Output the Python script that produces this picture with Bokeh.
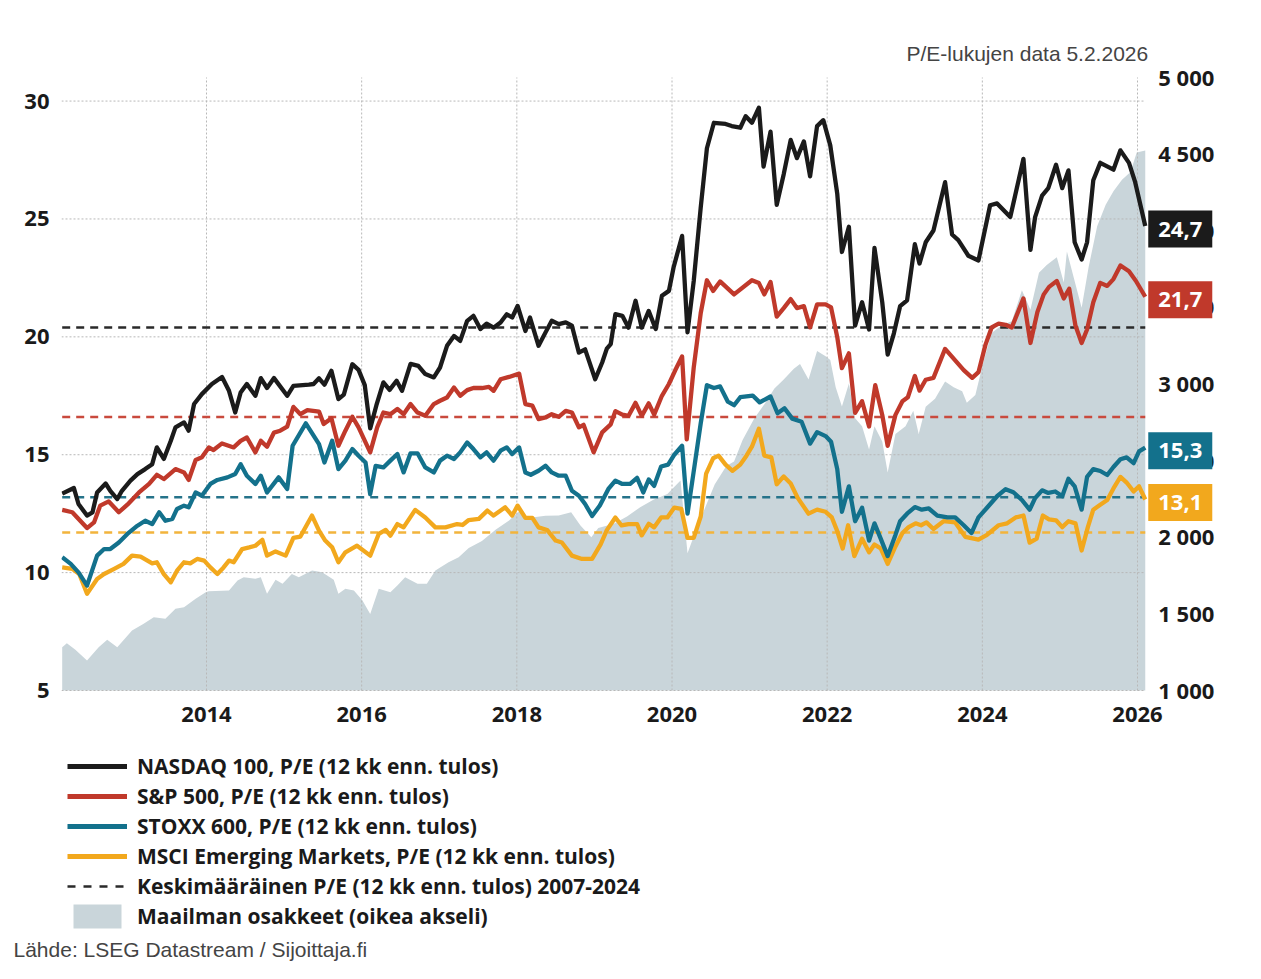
from bokeh.plotting import figure
from bokeh.models import Range1d, FixedTicker, Label, Legend, LegendItem, Title
from bokeh.layouts import column
from bokeh.core.properties import value
from bokeh.embed import file_html
from bokeh.resources import INLINE

# ---------------- data ----------------
nq_x = [2012.14, 2012.29, 2012.35, 2012.46, 2012.53, 2012.59, 2012.70, 2012.76, 2012.85, 2012.91,
        2013.02, 2013.11, 2013.21, 2013.30, 2013.36, 2013.45, 2013.54, 2013.60, 2013.71, 2013.77,
        2013.84, 2013.94, 2014.07, 2014.20, 2014.29, 2014.37, 2014.44, 2014.52, 2014.63, 2014.70,
        2014.78, 2014.87, 2015.04, 2015.12, 2015.32, 2015.38, 2015.45, 2015.52, 2015.61, 2015.70,
        2015.77, 2015.88, 2015.96, 2016.04, 2016.11, 2016.19, 2016.28, 2016.36, 2016.45, 2016.52,
        2016.63, 2016.73, 2016.82, 2016.93, 2017.01, 2017.10, 2017.19, 2017.27, 2017.36, 2017.44,
        2017.53, 2017.61, 2017.70, 2017.79, 2017.87, 2017.94, 2018.01, 2018.11, 2018.17, 2018.28,
        2018.37, 2018.45, 2018.54, 2018.63, 2018.71, 2018.80, 2018.88, 2019.01, 2019.10, 2019.16,
        2019.21, 2019.27, 2019.36, 2019.44, 2019.53, 2019.61, 2019.70, 2019.79, 2019.87, 2019.96,
        2020.02, 2020.13, 2020.20, 2020.28, 2020.37, 2020.45, 2020.54, 2020.69, 2020.77, 2020.88,
        2020.95, 2021.03, 2021.12, 2021.18, 2021.27, 2021.35, 2021.44, 2021.53, 2021.61, 2021.70,
        2021.78, 2021.87, 2021.95, 2022.04, 2022.13, 2022.19, 2022.28, 2022.36, 2022.45, 2022.54,
        2022.61, 2022.71, 2022.78, 2022.86, 2022.94, 2023.03, 2023.13, 2023.19, 2023.27, 2023.37,
        2023.52, 2023.61, 2023.69, 2023.82, 2023.95, 2024.10, 2024.19, 2024.36, 2024.53, 2024.62,
        2024.68, 2024.77, 2024.85, 2024.95, 2025.03, 2025.11, 2025.19, 2025.28, 2025.35, 2025.43,
        2025.52, 2025.69, 2025.78, 2025.89, 2025.97, 2026.10]
nq_y = [13.35, 13.59, 12.91, 12.42, 12.55, 13.40, 13.78, 13.47, 13.12, 13.47,
        13.90, 14.18, 14.39, 14.60, 15.31, 14.82, 15.59, 16.16, 16.37, 16.02,
        17.15, 17.57, 18.00, 18.30, 17.71, 16.79, 17.64, 18.00, 17.50, 18.25,
        17.83, 18.25, 17.50, 17.92, 17.97, 18.00, 18.24, 17.97, 18.56, 17.36,
        17.55, 18.84, 18.60, 17.95, 16.12, 17.10, 18.07, 17.75, 18.14, 17.71,
        18.85, 18.77, 18.42, 18.28, 18.70, 19.62, 20.04, 19.83, 20.68, 20.89,
        20.33, 20.56, 20.39, 20.61, 20.96, 20.82, 21.31, 20.25, 20.82, 19.62,
        20.19, 20.68, 20.54, 20.61, 20.47, 19.33, 19.47, 18.20, 18.91, 19.50,
        19.69, 20.96, 20.89, 20.39, 21.53, 20.39, 21.10, 20.33, 21.74, 21.95,
        22.94, 24.28, 20.19, 22.37, 25.48, 28.00, 29.08, 29.03, 28.94, 28.87,
        29.36, 29.08, 29.72, 27.22, 28.70, 25.60, 26.90, 28.35, 27.58, 28.29,
        26.81, 28.94, 29.19, 28.12, 26.07, 23.60, 24.67, 20.48, 21.47, 20.31,
        23.77, 21.47, 19.25, 20.15, 21.30, 21.55, 23.93, 23.11, 24.01, 24.51,
        26.56, 24.34, 24.10, 23.44, 23.24, 25.58, 25.66, 25.08, 27.55, 23.69,
        25.08, 25.99, 26.31, 27.30, 26.31, 27.06, 24.01, 23.28, 24.01, 26.64,
        27.38, 27.09, 27.91, 27.38, 26.56, 24.70]

sp_x = [2012.14, 2012.27, 2012.46, 2012.55, 2012.63, 2012.74, 2012.87, 2012.98, 2013.13, 2013.26,
        2013.36, 2013.45, 2013.60, 2013.71, 2013.77, 2013.86, 2013.94, 2014.03, 2014.09, 2014.20,
        2014.35, 2014.44, 2014.52, 2014.63, 2014.70, 2014.78, 2014.87, 2014.95, 2015.04, 2015.12,
        2015.21, 2015.30, 2015.45, 2015.51, 2015.61, 2015.70, 2015.79, 2015.88, 2015.96, 2016.11,
        2016.20, 2016.28, 2016.37, 2016.46, 2016.54, 2016.63, 2016.72, 2016.82, 2016.93, 2017.01,
        2017.10, 2017.19, 2017.27, 2017.36, 2017.44, 2017.55, 2017.64, 2017.70, 2017.79, 2017.90,
        2018.03, 2018.11, 2018.20, 2018.28, 2018.37, 2018.45, 2018.54, 2018.63, 2018.71, 2018.80,
        2018.86, 2018.99, 2019.10, 2019.21, 2019.27, 2019.36, 2019.44, 2019.53, 2019.61, 2019.70,
        2019.77, 2019.87, 2019.96, 2020.04, 2020.13, 2020.19, 2020.28, 2020.37, 2020.45, 2020.53,
        2020.62, 2020.80, 2021.03, 2021.12, 2021.19, 2021.27, 2021.35, 2021.44, 2021.53, 2021.61,
        2021.70, 2021.78, 2021.87, 2021.98, 2022.05, 2022.13, 2022.19, 2022.28, 2022.36, 2022.45,
        2022.54, 2022.62, 2022.71, 2022.78, 2022.88, 2022.97, 2023.04, 2023.13, 2023.19, 2023.27,
        2023.37, 2023.52, 2023.65, 2023.76, 2023.87, 2023.95, 2024.04, 2024.12, 2024.21, 2024.30,
        2024.38, 2024.53, 2024.62, 2024.71, 2024.79, 2024.86, 2024.96, 2025.05, 2025.12, 2025.20,
        2025.28, 2025.35, 2025.43, 2025.52, 2025.61, 2025.69, 2025.78, 2025.89, 2025.98, 2026.10]
sp_y = [12.66, 12.56, 11.89, 12.13, 12.84, 13.02, 12.56, 12.88, 13.40, 13.76,
        14.15, 13.97, 14.39, 14.25, 13.93, 14.78, 14.89, 15.31, 15.20, 15.48,
        15.31, 15.59, 15.73, 15.10, 15.59, 15.34, 15.94, 16.02, 16.19, 17.03,
        16.72, 16.89, 16.83, 16.30, 16.55, 15.38, 16.02, 16.61, 16.16, 15.10,
        16.16, 16.79, 16.72, 16.94, 16.72, 17.15, 16.79, 16.65, 17.15, 17.29,
        17.43, 17.85, 17.50, 17.74, 17.83, 17.83, 17.88, 17.71, 18.20, 18.30,
        18.44, 17.15, 17.08, 16.51, 16.58, 16.72, 16.61, 16.86, 16.79, 16.16,
        16.27, 15.10, 15.95, 16.29, 16.85, 16.70, 16.65, 17.20, 16.65, 17.18,
        16.70, 17.50, 18.00, 18.57, 19.17, 15.65, 18.70, 21.00, 22.40, 21.95,
        22.35, 21.80, 22.40, 22.28, 21.80, 22.33, 20.86, 21.22, 21.60, 21.22,
        21.30, 20.40, 21.38, 21.38, 21.25, 19.99, 18.67, 19.30, 16.78, 17.27,
        16.20, 17.95, 16.69, 15.38, 16.69, 17.27, 17.44, 18.34, 17.72, 18.18,
        18.26, 19.49, 19.00, 18.59, 18.26, 18.50, 19.66, 20.40, 20.56, 20.51,
        20.40, 21.63, 19.74, 21.05, 21.79, 22.12, 22.37, 21.63, 22.04, 20.48,
        19.74, 20.31, 21.47, 22.29, 22.16, 22.45, 23.03, 22.78, 22.37, 21.70]

sx_x = [2012.14, 2012.25, 2012.35, 2012.46, 2012.59, 2012.68, 2012.76, 2012.87, 2012.98, 2013.11,
        2013.21, 2013.30, 2013.39, 2013.47, 2013.56, 2013.62, 2013.71, 2013.77, 2013.86, 2013.94,
        2014.05, 2014.14, 2014.27, 2014.37, 2014.44, 2014.52, 2014.63, 2014.70, 2014.78, 2014.93,
        2015.04, 2015.11, 2015.28, 2015.45, 2015.52, 2015.62, 2015.70, 2015.79, 2015.88, 2015.96,
        2016.05, 2016.11, 2016.18, 2016.28, 2016.37, 2016.46, 2016.54, 2016.63, 2016.72, 2016.82,
        2016.93, 2017.01, 2017.10, 2017.19, 2017.27, 2017.36, 2017.44, 2017.53, 2017.61, 2017.70,
        2017.79, 2017.87, 2017.94, 2018.03, 2018.11, 2018.18, 2018.28, 2018.37, 2018.45, 2018.54,
        2018.63, 2018.71, 2018.80, 2018.88, 2018.97, 2019.07, 2019.18, 2019.27, 2019.36, 2019.46,
        2019.55, 2019.63, 2019.70, 2019.77, 2019.86, 2019.95, 2020.03, 2020.13, 2020.20, 2020.28,
        2020.37, 2020.45, 2020.54, 2020.62, 2020.72, 2020.80, 2020.88, 2021.04, 2021.13, 2021.27,
        2021.36, 2021.45, 2021.55, 2021.67, 2021.78, 2021.87, 2021.98, 2022.05, 2022.13, 2022.19,
        2022.28, 2022.36, 2022.45, 2022.54, 2022.61, 2022.69, 2022.78, 2022.88, 2022.94, 2023.03,
        2023.13, 2023.22, 2023.31, 2023.42, 2023.55, 2023.65, 2023.76, 2023.86, 2023.95, 2024.06,
        2024.19, 2024.30, 2024.40, 2024.51, 2024.61, 2024.68, 2024.77, 2024.85, 2024.94, 2025.03,
        2025.11, 2025.19, 2025.28, 2025.35, 2025.43, 2025.52, 2025.61, 2025.69, 2025.78, 2025.86,
        2025.95, 2026.02, 2026.10]
sx_y = [10.65, 10.37, 10.01, 9.45, 10.72, 11.00, 11.00, 11.28, 11.64, 11.99,
        12.20, 12.06, 12.56, 12.20, 12.28, 12.70, 12.84, 12.77, 13.40, 13.26,
        13.76, 13.93, 14.04, 14.18, 14.60, 14.11, 13.76, 14.11, 13.40, 14.04,
        13.55, 15.38, 16.33, 15.45, 14.67, 15.59, 14.39, 14.75, 15.24, 14.96,
        14.67, 13.33, 14.53, 14.46, 14.75, 15.03, 14.25, 15.06, 15.06, 14.46,
        14.25, 14.75, 14.96, 14.82, 15.10, 15.52, 15.24, 14.89, 15.10, 14.75,
        15.17, 15.31, 15.03, 15.31, 14.25, 14.15, 14.32, 14.53, 14.25, 14.11,
        14.11, 13.47, 13.26, 12.91, 12.40, 12.85, 13.55, 13.90, 13.76, 13.76,
        14.02, 13.40, 13.95, 13.68, 14.50, 14.58, 15.00, 15.38, 12.50, 14.30,
        16.33, 17.95, 17.83, 17.90, 17.25, 17.10, 17.44, 17.51, 17.22, 17.47,
        16.76, 16.97, 16.53, 16.40, 15.47, 15.96, 15.79, 15.55, 14.39, 12.58,
        13.66, 12.18, 12.75, 11.36, 12.09, 11.44, 10.70, 11.60, 12.18, 12.50,
        12.78, 12.67, 12.72, 12.42, 12.34, 12.34, 12.01, 11.68, 12.34, 12.75,
        13.24, 13.54, 13.41, 13.08, 12.67, 13.16, 13.49, 13.38, 13.44, 13.24,
        13.98, 13.66, 12.67, 14.06, 14.39, 14.31, 14.14, 14.48, 14.81, 14.89,
        14.64, 15.14, 15.30]

em_x = [2012.14, 2012.27, 2012.36, 2012.46, 2012.59, 2012.68, 2012.81, 2012.93, 2013.04, 2013.15,
        2013.30, 2013.36, 2013.45, 2013.54, 2013.62, 2013.71, 2013.79, 2013.88, 2013.97, 2014.05,
        2014.14, 2014.22, 2014.29, 2014.35, 2014.46, 2014.55, 2014.63, 2014.72, 2014.78, 2014.89,
        2015.02, 2015.12, 2015.21, 2015.36, 2015.45, 2015.53, 2015.62, 2015.70, 2015.79, 2015.94,
        2016.11, 2016.22, 2016.31, 2016.37, 2016.46, 2016.54, 2016.69, 2016.82, 2016.95, 2017.08,
        2017.23, 2017.30, 2017.38, 2017.51, 2017.62, 2017.70, 2017.85, 2017.94, 2018.01, 2018.11,
        2018.20, 2018.28, 2018.39, 2018.50, 2018.58, 2018.71, 2018.84, 2018.97, 2019.08, 2019.16,
        2019.27, 2019.35, 2019.44, 2019.55, 2019.61, 2019.70, 2019.77, 2019.86, 2019.94, 2020.03,
        2020.12, 2020.20, 2020.28, 2020.37, 2020.44, 2020.53, 2020.60, 2020.69, 2020.78, 2020.88,
        2020.96, 2021.03, 2021.12, 2021.19, 2021.28, 2021.35, 2021.44, 2021.53, 2021.62, 2021.76,
        2021.87, 2021.98, 2022.06, 2022.13, 2022.20, 2022.27, 2022.35, 2022.45, 2022.54, 2022.61,
        2022.69, 2022.78, 2022.88, 2022.97, 2023.05, 2023.14, 2023.21, 2023.28, 2023.37, 2023.50,
        2023.65, 2023.78, 2023.95, 2024.06, 2024.21, 2024.32, 2024.43, 2024.53, 2024.61, 2024.70,
        2024.78, 2024.86, 2024.95, 2025.03, 2025.11, 2025.20, 2025.28, 2025.36, 2025.43, 2025.52,
        2025.61, 2025.69, 2025.78, 2025.86, 2025.95, 2026.02, 2026.10]
em_y = [10.22, 10.16, 9.94, 9.10, 9.73, 9.94, 10.16, 10.37, 10.72, 10.68,
        10.39, 10.44, 9.94, 9.59, 10.08, 10.44, 10.39, 10.58, 10.51, 10.22,
        9.94, 10.22, 10.51, 10.44, 11.00, 11.07, 11.14, 11.39, 10.72, 10.90,
        10.72, 11.47, 11.53, 12.42, 11.78, 11.36, 11.07, 10.44, 10.86, 11.14,
        10.72, 11.64, 11.81, 11.57, 12.06, 11.92, 12.66, 12.34, 11.92, 11.92,
        12.06, 12.02, 12.23, 12.28, 12.63, 12.42, 12.77, 12.42, 12.84, 12.32,
        12.32, 11.92, 11.81, 11.36, 11.28, 10.72, 10.58, 10.58, 11.20, 11.80,
        12.34, 12.00, 12.06, 12.06, 11.58, 12.07, 11.92, 12.34, 12.34, 12.76,
        12.70, 11.47, 11.47, 12.38, 14.20, 14.85, 14.96, 14.58, 14.32, 14.58,
        14.96, 15.34, 16.10, 14.96, 14.89, 13.75, 14.08, 13.78, 13.17, 12.50,
        12.67, 12.58, 12.34, 11.76, 11.02, 12.01, 10.70, 11.44, 10.86, 11.19,
        11.03, 10.37, 11.11, 11.68, 11.93, 12.09, 12.01, 12.13, 11.85, 12.18,
        12.13, 11.52, 11.40, 11.60, 12.01, 12.09, 12.34, 12.42, 11.27, 11.44,
        12.42, 12.26, 12.22, 11.93, 12.18, 12.09, 10.94, 11.93, 12.67, 12.88,
        13.08, 13.57, 14.06, 13.82, 13.44, 13.66, 13.10]

wd_x = [2012.14, 2012.20, 2012.31, 2012.46, 2012.61, 2012.72, 2012.85, 2013.04, 2013.19, 2013.32,
        2013.47, 2013.60, 2013.71, 2013.86, 2013.99, 2014.03, 2014.29, 2014.40, 2014.48, 2014.63,
        2014.70, 2014.78, 2014.89, 2014.98, 2015.10, 2015.19, 2015.36, 2015.49, 2015.64, 2015.70,
        2015.79, 2015.90, 2016.01, 2016.11, 2016.22, 2016.37, 2016.46, 2016.56, 2016.72, 2016.84,
        2016.95, 2017.12, 2017.25, 2017.38, 2017.55, 2017.73, 2017.90, 2018.03, 2018.11, 2018.22,
        2018.37, 2018.54, 2018.70, 2018.82, 2018.96, 2019.05, 2019.25, 2019.42, 2019.59, 2019.76,
        2019.94, 2020.11, 2020.20, 2020.29, 2020.42, 2020.55, 2020.70, 2020.80, 2020.91, 2021.06,
        2021.20, 2021.32, 2021.44, 2021.57, 2021.65, 2021.76, 2021.87, 2021.98, 2022.04, 2022.11,
        2022.19, 2022.28, 2022.36, 2022.45, 2022.54, 2022.61, 2022.71, 2022.78, 2022.88, 2023.01,
        2023.11, 2023.18, 2023.27, 2023.39, 2023.52, 2023.63, 2023.74, 2023.80, 2023.91, 2024.02,
        2024.12, 2024.25, 2024.38, 2024.51, 2024.62, 2024.73, 2024.83, 2024.96, 2025.05, 2025.09,
        2025.28, 2025.37, 2025.48, 2025.59, 2025.69, 2025.80, 2025.91, 2025.99, 2026.10]
wd_y = [1283, 1309, 1266, 1196, 1283, 1331, 1283, 1392, 1435, 1478,
        1468, 1533, 1543, 1598, 1641, 1648, 1653, 1718, 1739, 1729,
        1739, 1631, 1722, 1696, 1761, 1739, 1783, 1772, 1722, 1631,
        1664, 1653, 1587, 1500, 1664, 1641, 1685, 1739, 1696, 1696,
        1783, 1837, 1870, 1930, 1975, 2050, 2109, 2170, 2135, 2131,
        2140, 2142, 2163, 2077, 2000, 2060, 2088, 2135, 2196, 2245,
        2283, 2370, 1895, 2020, 2185, 2345, 2465, 2495, 2635, 2775,
        2875, 2970, 3030, 3100, 3130, 3029, 3215, 3181, 3156, 2978,
        2853, 3004, 2776, 2725, 2573, 2725, 2624, 2422, 2674, 2725,
        2826, 2674, 2852, 2903, 3016, 2978, 2953, 2877, 2928, 3156,
        3333, 3384, 3409, 3611, 3485, 3726, 3776, 3827, 3662, 3865,
        3498, 3763, 4029, 4169, 4258, 4333, 4384, 4511, 4523]

averages = {"nq": 20.4, "sp": 16.6, "sx": 13.2, "em": 11.7}

series_names = {"nq": "NASDAQ 100, P/E (12 kk enn. tulos)",
                "sp": "S&P 500, P/E (12 kk enn. tulos)",
                "sx": "STOXX 600, P/E (12 kk enn. tulos)",
                "em": "MSCI Emerging Markets, P/E (12 kk enn. tulos)"}
avg_name = "Keskimääräinen P/E (12 kk enn. tulos) 2007-2024"
world_name = "Maailman osakkeet (oikea akseli)"
note_text = "P/E-lukujen data 5.2.2026"
source_text = "Lähde: LSEG Datastream / Sijoittaja.fi"

left_ticks = [5, 10, 15, 20, 25, 30]
right_ticks = [1000, 1500, 2000, 2500, 3000, 3500, 4000, 4500, 5000]
year_ticks = [2014, 2016, 2018, 2020, 2022, 2024, 2026]

# ---------------- layout constants ----------------
C_BLACK = "#1b1b1b"
C_RED = "#c0392b"
C_TEAL = "#13718c"
C_ORANGE = "#f2a81d"
C_AREA = "#c9d5da"
C_GRID = "#b8b8b8"
FONT = "Open Sans"

W = 1261
H_MAIN = 745
BORDER_L, BORDER_T, BORDER_B = 61, 66, 43
FRAME_W = 1164
BORDER_R = W - BORDER_L - FRAME_W
PX_YEAR = 931 / 12.0
X0 = 2012.131
X1 = X0 + FRAME_W / PX_YEAR
L_LO, L_HI = 5, 31
R_LO, R_HI = 1000, 5000
CORE_H = 613
EXT_T, EXT_B = 11, 12
px_l = CORE_H / (L_HI - L_LO)
px_r = CORE_H / (R_HI - R_LO)

p = figure(width=W, height=H_MAIN,
           x_range=Range1d(X0, X1),
           y_range=Range1d(L_LO - EXT_B / px_l, L_HI + EXT_T / px_l),
           output_backend="svg", toolbar_location=None,
           min_border_left=BORDER_L, min_border_top=BORDER_T,
           min_border_right=BORDER_R, min_border_bottom=BORDER_B,
           title=note_text)
p.extra_y_ranges = {"right": Range1d(R_LO - EXT_B / px_r, R_HI + EXT_T / px_r)}
p.outline_line_color = None
p.background_fill_color = "white"
p.grid.visible = False

p.title.align = "left"
p.title.offset = 845
p.title.standoff = 4
p.title.text_font = "Liberation Sans"
p.title.text_font_style = "normal"
p.title.text_font_size = "21px"
p.title.text_color = "#444444"

for ax in (p.xaxis[0], p.yaxis[0]):
    ax.axis_line_color = None
    ax.major_tick_line_color = None
    ax.minor_tick_line_color = None
    ax.major_tick_out = 0
    ax.major_tick_in = 0
    ax.minor_tick_out = 0
    ax.major_label_text_font = FONT
    ax.major_label_text_font_style = "bold"
    ax.major_label_text_font_size = "22px"
    ax.major_label_text_color = "#1a1a1a"
p.yaxis.ticker = FixedTicker(ticks=left_ticks)
p.yaxis.major_label_standoff = 12
p.xaxis.ticker = FixedTicker(ticks=year_ticks)
p.xaxis.major_label_standoff = 4

# world equities area (right axis)
p.varea(x=wd_x, y1=R_LO, y2=wd_y, y_range_name="right", fill_color=C_AREA)

# dotted grid over the area, ending at the last observation
x_end = wd_x[-1]
p.segment(x0=[X0] * len(left_ticks), y0=left_ticks, x1=[x_end] * len(left_ticks), y1=left_ticks,
          line_color=C_GRID, line_width=1, line_dash="2 2")
p.segment(x0=year_ticks, y0=[L_LO] * len(year_ticks), x1=year_ticks, y1=[L_HI] * len(year_ticks),
          line_color=C_GRID, line_width=1, line_dash="2 2")

colors = {"nq": C_BLACK, "sp": C_RED, "sx": C_TEAL, "em": C_ORANGE}
avg_colors = {"nq": "#2a2a2a", "sp": "#c94a3d", "sx": "#25738a", "em": "#f2b43c"}
for k in ["nq", "sp", "sx", "em"]:
    p.line(x=[nq_x[0], x_end], y=[averages[k], averages[k]], line_color=avg_colors[k],
           line_width=2.5, line_dash="8 6")

data = {"nq": (nq_x, nq_y), "sp": (sp_x, sp_y), "sx": (sx_x, sx_y), "em": (em_x, em_y)}
for k in ["em", "sx", "sp", "nq"]:
    xs, ys = data[k]
    p.line(x=xs, y=ys, line_color=colors[k], line_width=4.3, line_join="round")

# right-axis tick labels (drawn inside the frame so the value boxes can cover them)
p.text(x=[x_end] * len(right_ticks), y=right_ticks,
       text=[f"{t:,}".replace(",", " ") for t in right_ticks],
       y_range_name="right", x_offset=13, y_offset=-1, text_baseline="middle", text_align="left",
       text_font=value(FONT), text_font_style="bold", text_font_size="22px", text_color="#1a1a1a")

# end-value boxes
for k in ["nq", "sp", "sx", "em"]:
    xs, ys = data[k]
    txt = f"{ys[-1]:.1f}".replace(".", ",")
    p.add_layout(Label(x=xs[-1], y=ys[-1], text=txt, x_offset=3, y_offset=-3,
                       text_font=FONT, text_font_style="bold", text_font_size="22px",
                       text_color="white", text_baseline="middle", text_align="left",
                       background_fill_color=colors[k], padding=(10, 11)))

# ---------------- legend panel ----------------
H_LEG = 230
q = figure(width=W, height=H_LEG, output_backend="svg", toolbar_location=None,
           x_range=Range1d(0, 1), y_range=Range1d(0, 1),
           min_border_top=0, min_border_left=0, min_border_right=0, min_border_bottom=41,
           x_axis_location=None, y_axis_location=None)
q.grid.visible = False
q.outline_line_color = None

# legend-only renderers: their data lie outside the panel's ranges, so only the legend shows them
OFF_X, OFF_Y, OFF_Y2 = [-3, -2], [-3, -3], [-2, -2]
items = []
for k in ["nq", "sp", "sx", "em"]:
    r = q.line(x=OFF_X, y=OFF_Y, line_color=colors[k], line_width=5)
    items.append(LegendItem(label=series_names[k], renderers=[r]))
r_avg = q.line(x=OFF_X, y=OFF_Y, line_color="#2a2a2a", line_width=2.5, line_dash="8 8")
items.append(LegendItem(label=avg_name, renderers=[r_avg]))
r_area = q.varea(x=OFF_X, y1=OFF_Y, y2=OFF_Y2, fill_color=C_AREA)
items.append(LegendItem(label=world_name, renderers=[r_area]))

ROW = 30
legend = Legend(items=items, location="top_left", orientation="vertical",
                glyph_width=60, glyph_height=ROW, label_height=ROW, label_standoff=10, spacing=0,
                padding=0, margin=6, border_line_color=None, background_fill_alpha=0,
                label_text_font=FONT, label_text_font_style="bold",
                label_text_font_size="21px", label_text_color="#1a1a1a")
q.add_layout(legend)

q.add_layout(Title(text=source_text, align="left", offset=13 - BORDER_L, standoff=2,
                   text_font="Liberation Sans", text_font_style="normal", text_font_size="21px",
                   text_color="#444444"), "below")

layout = column(p, q, spacing=0)
open("out.html", "w").write(file_html(layout, INLINE))
